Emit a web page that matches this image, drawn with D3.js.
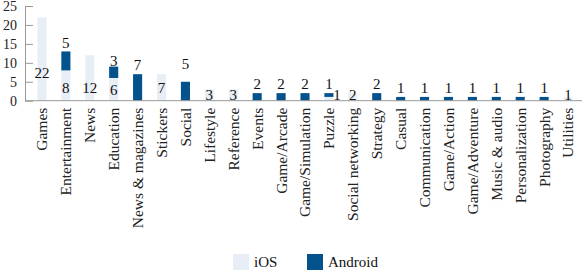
<!DOCTYPE html>
<html>
<head>
<meta charset="utf-8">
<script src="https://cdn.jsdelivr.net/npm/d3@7"></script>
<style>
  html, body { margin: 0; padding: 0; background: #fff; }
  svg, svg text { font-family: "Liberation Serif", "Tinos", "DejaVu Serif", serif; }
</style>
</head>
<body>
<svg id="chart" width="582" height="271"></svg>
<script>
const categories = ["Games", "Entertainment", "News", "Education", "News & magazines", "Stickers", "Social",
  "Lifestyle", "Reference", "Events", "Game/Arcade", "Game/Simulation", "Puzzle", "Social networking",
  "Strategy", "Casual", "Communication", "Game/Action", "Game/Adventure", "Music & audio",
  "Personalization", "Photography", "Utilities"];
const iosValues     = [22, 8, 12, 6, 0, 7, 0, 3, 3, 0, 0, 0, 1, 2, 0, 0, 0, 0, 0, 0, 0, 0, 1];
const androidValues = [0, 5, 0, 3, 7, 0, 5, 0, 0, 2, 2, 2, 1, 0, 2, 1, 1, 1, 1, 1, 1, 1, 0];
const yTicks = [0, 5, 10, 15, 20, 25];
const seriesNames = ["iOS", "Android"];

const FONT = '"Liberation Serif", "Tinos", "DejaVu Serif", serif';
const colors = { iOS: "#e8eef6", Android: "#04528c" };
const svg = d3.select("#chart");

const x = d3.scaleBand().domain(categories).range([30, 580]).paddingInner(0.62).paddingOuter(0.31);
const y = d3.scaleLinear().domain([0, 25]).range([100.7, 6]);

const rows = categories.map((c, i) => ({ c, iOS: iosValues[i], Android: androidValues[i] }));
const stack = d3.stack().keys(seriesNames)(rows);

// bars
stack.forEach(layer => {
  svg.append("g").selectAll("rect").data(layer).join("rect")
    .attr("x", d => x(d.data.c))
    .attr("width", x.bandwidth())
    .attr("y", d => y(d[1]))
    .attr("height", d => y(d[0]) - y(d[1]))
    .attr("fill", colors[layer.key]);
});

// axes
const yAxis = d3.axisLeft(y).tickValues(yTicks).tickSizeInner(-8).tickSizeOuter(0).tickPadding(8);
const gy = svg.append("g").attr("transform", "translate(25,0)").call(yAxis).attr("font-family", FONT);
gy.select(".domain").attr("stroke", "#999");
gy.selectAll(".tick line").attr("stroke", "#999");
gy.selectAll(".tick text").attr("font-size", 14).attr("fill", "#222").style("font-family", FONT);

svg.append("line").attr("x1", 25).attr("x2", 582).attr("y1", y(0)).attr("y2", y(0)).attr("stroke", "#999");

// category labels
svg.append("g").selectAll("text").data(categories).join("text")
  .attr("transform", d => `translate(${x(d) + x.bandwidth() / 2},${y(0) + 7}) rotate(-90)`)
  .attr("text-anchor", "end")
  .attr("dy", "0.35em")
  .attr("font-size", 15.5)
  .attr("fill", "#222")
  .style("font-family", FONT)
  .text(d => d);

// value labels
const base = y(0);
const iosNudge = { "Games": -15 };
const androidNudge = { "Social": -9, "Education": 3 };
const labels = svg.append("g").attr("font-size", 15).attr("fill", "#111").attr("text-anchor", "middle");
rows.forEach(r => {
  const cx = x(r.c) + x.bandwidth() / 2;
  if (r.iOS > 0) {
    const segC = (y(0) + y(r.iOS)) / 2;
    let cy = Math.min(Math.max(segC, base - 13), base - 6) + (iosNudge[r.c] || 0);
    let lx = cx;
    if (r.Android > 0 && r.iOS < 3) lx = cx + 8;
    labels.append("text").attr("x", lx).attr("y", cy).attr("dy", "0.35em").style("font-family", FONT).text(r.iOS);
  }
  if (r.Android > 0) {
    const top = y(r.iOS + r.Android);
    const cy = top - 9 + (androidNudge[r.c] || 0);
    labels.append("text").attr("x", cx).attr("y", cy).attr("dy", "0.35em").style("font-family", FONT).text(r.Android);
  }
});

// legend
const legend = svg.append("g");
const legendX = [233, 307];
seriesNames.forEach((s, i) => {
  legend.append("rect").attr("x", legendX[i]).attr("y", 254).attr("width", 16).attr("height", 16).attr("fill", colors[s]);
  legend.append("text").attr("x", legendX[i] + 21).attr("y", 262).attr("dy", "0.35em")
    .attr("font-size", 15).attr("fill", "#111").style("font-family", FONT).text(s);
});
</script>
</body>
</html>
